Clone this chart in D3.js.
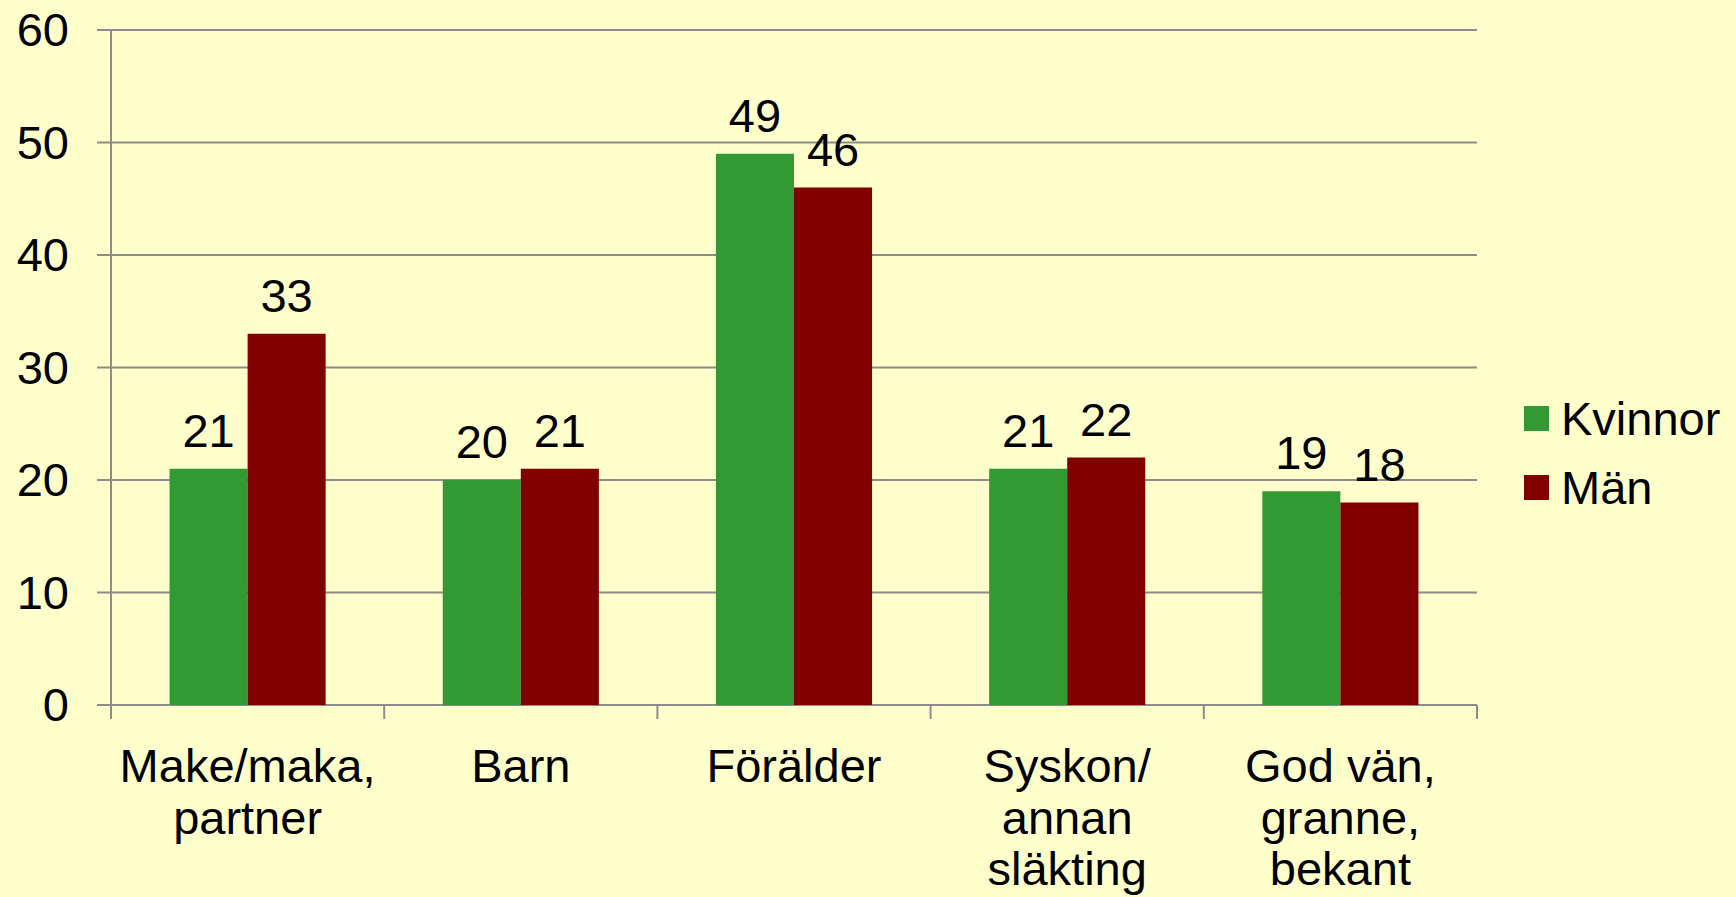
<!DOCTYPE html>
<html>
<head>
  <script src="https://cdnjs.cloudflare.com/ajax/libs/d3/7.8.5/d3.min.js"></script>
  <style>
    body { margin: 0; background: #ffffcc; }
    svg text { font-family: "Liberation Sans", Arial, sans-serif; fill: #000; }
  </style>
</head>
<body>
  <svg id="chart" width="1736" height="897"></svg>
  <script>
    var categories = [
      ["Make/maka,", "partner"],
      ["Barn"],
      ["Förälder"],
      ["Syskon/", "annan", "släkting"],
      ["God vän,", "granne,", "bekant"]
    ];
    var seriesNames = ["Kvinnor", "Män"];
    var kvinnor = [21, 20, 49, 21, 19];
    var man = [33, 21, 46, 22, 18];
    var colors = ["#339933", "#800000"];
    var yTicks = [0, 10, 20, 30, 40, 50, 60];

    var values = [kvinnor, man];
    var plotLeft = 111, plotRight = 1477, plotTop = 30, plotBottom = 705;

    var svg = d3.select("#chart");
    svg.append("rect").attr("width", 1736).attr("height", 897).attr("fill", "#ffffcc");

    var x0 = d3.scaleBand()
      .domain(d3.range(categories.length))
      .range([plotLeft, plotRight])
      .padding(0);

    var x1 = d3.scaleBand()
      .domain(d3.range(seriesNames.length))
      .range([0, x0.bandwidth()])
      .paddingInner(0)
      .paddingOuter(0.75);

    var y = d3.scaleLinear().domain([0, 60]).range([plotBottom, plotTop]);

    // gridlines
    svg.append("g")
      .selectAll("line")
      .data(yTicks)
      .enter()
      .append("line")
      .attr("x1", plotLeft - 14)
      .attr("x2", plotRight)
      .attr("y1", d => y(d))
      .attr("y2", d => y(d))
      .attr("stroke", "#8c8c8c")
      .attr("stroke-width", 2);

    // y axis line
    svg.append("line")
      .attr("x1", plotLeft).attr("x2", plotLeft)
      .attr("y1", plotTop).attr("y2", plotBottom + 14)
      .attr("stroke", "#8c8c8c").attr("stroke-width", 2);

    // y tick labels
    svg.append("g")
      .selectAll("text")
      .data(yTicks)
      .enter()
      .append("text")
      .attr("x", 69)
      .attr("y", d => y(d))
      .attr("dy", "0.35em")
      .attr("text-anchor", "end")
      .style("font-size", "47px")
      .text(d => d);

    // x category ticks
    svg.append("g")
      .selectAll("line")
      .data(d3.range(categories.length + 1))
      .enter()
      .append("line")
      .attr("x1", i => plotLeft + i * x0.step())
      .attr("x2", i => plotLeft + i * x0.step())
      .attr("y1", plotBottom)
      .attr("y2", plotBottom + 14)
      .attr("stroke", "#8c8c8c")
      .attr("stroke-width", 2);

    // bars
    values.forEach(function(series, s) {
      var g = svg.append("g");
      g.selectAll("rect")
        .data(series)
        .enter()
        .append("rect")
        .attr("x", (d, i) => x0(i) + x1(s))
        .attr("width", x1.bandwidth())
        .attr("y", d => y(d))
        .attr("height", d => y(0) - y(d))
        .attr("fill", colors[s]);

      g.selectAll("text")
        .data(series)
        .enter()
        .append("text")
        .attr("x", (d, i) => x0(i) + x1(s) + x1.bandwidth() / 2)
        .attr("y", d => y(d) - 22)
        .attr("text-anchor", "middle")
        .style("font-size", "47px")
        .text(d => d);
    });

    // category labels
    var catLabels = svg.append("g")
      .selectAll("text")
      .data(categories)
      .enter()
      .append("text")
      .attr("text-anchor", "middle")
      .attr("x", (d, i) => x0(i) + x0.bandwidth() / 2)
      .attr("y", 782)
      .style("font-size", "47px");

    catLabels.selectAll("tspan")
      .data(d => d)
      .enter()
      .append("tspan")
      .attr("x", function() { return d3.select(this.parentNode).attr("x"); })
      .attr("dy", (d, i) => i === 0 ? 0 : 51.5)
      .text(d => d);

    // legend
    var legend = svg.append("g")
      .selectAll("g")
      .data(seriesNames)
      .enter()
      .append("g")
      .attr("transform", (d, i) => "translate(1524," + (406 + i * 69) + ")");

    legend.append("rect")
      .attr("width", 25)
      .attr("height", 25)
      .attr("fill", (d, i) => colors[i]);

    legend.append("text")
      .attr("x", 37)
      .attr("y", 29)
      .style("font-size", "47px")
      .text(d => d);
  </script>
</body>
</html>
